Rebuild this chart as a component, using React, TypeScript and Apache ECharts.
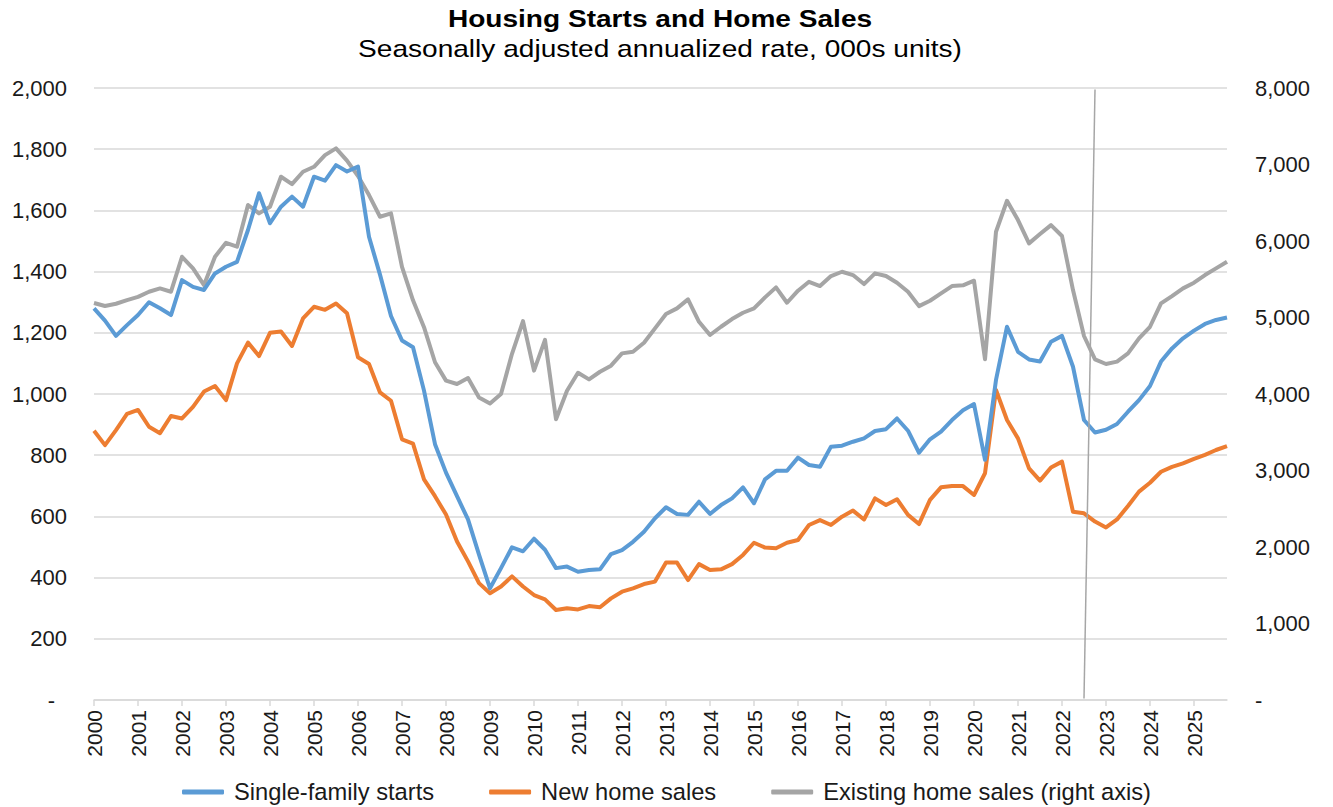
import React, { useEffect, useRef } from "react";
import * as echarts from "echarts";

const YEARS = [
  "2000", "2001", "2002", "2003", "2004", "2005", "2006", "2007", "2008", "2009",
  "2010", "2011", "2012", "2013", "2014", "2015", "2016", "2017", "2018", "2019",
  "2020", "2021", "2022", "2023", "2024", "2025",
];
const QUARTERS = ["Q1", "Q2", "Q3", "Q4"];
const CATEGORIES: string[] = YEARS.flatMap((y) => QUARTERS.map((q) => `${y}${q}`));

// Single-family housing starts (000s, SAAR) - left axis
const SINGLE_FAMILY_STARTS = [
  1280, 1240, 1190, 1225, 1258, 1300, 1280, 1258, 1372, 1350, 1340, 1394, 1416, 1432, 1536, 1656,
  1558, 1612, 1645, 1612, 1710, 1697, 1748, 1727, 1743, 1514, 1390, 1255, 1175, 1153, 1011, 836,
  743, 666, 590, 475, 365, 431, 499, 486, 527, 491, 431, 436, 419, 425, 427, 477,
  490, 517, 550, 594, 630, 608, 605, 648, 608, 637, 659, 695, 643, 721, 749, 749,
  792, 768, 762, 828, 831, 844, 855, 879, 885, 920, 880, 808, 852, 877, 915, 947,
  967, 785, 1046, 1220, 1138, 1113, 1106, 1171, 1190, 1089, 915, 874, 883, 902, 942, 980,
  1026, 1106, 1149, 1182, 1207, 1229, 1242, 1250,
];

// New home sales (000s, SAAR) - left axis
const NEW_HOME_SALES = [
  880, 833, 882, 935, 948, 893, 872, 928, 920, 958, 1008, 1026, 980, 1100, 1168, 1124,
  1200, 1204, 1157, 1247, 1285, 1275, 1296, 1264, 1120, 1098, 1005, 978, 852, 838, 721, 666,
  606, 518, 453, 382, 349, 371, 404, 371, 343, 329, 294, 300, 296, 307, 303, 332,
  354, 365, 379, 387, 449, 449, 392, 444, 425, 427, 444, 474, 514, 498, 496, 514,
  523, 572, 588, 572, 599, 619, 590, 659, 637, 656, 605, 575, 654, 695, 699, 699,
  670, 741, 1013, 915, 855, 757, 717, 760, 779, 615, 610, 583, 564, 590, 634, 681,
  710, 746, 762, 773, 788, 801, 817, 830,
];

// Existing home sales (000s, SAAR) - right axis
const EXISTING_HOME_SALES = [
  5190, 5150, 5180, 5228, 5270, 5337, 5380, 5337, 5794, 5642, 5424, 5794, 5977, 5925, 6470, 6361,
  6447, 6840, 6744, 6905, 6970, 7123, 7211, 7050, 6850, 6600, 6317, 6361, 5663, 5224, 4874, 4415,
  4175, 4131, 4209, 3955, 3877, 4000, 4525, 4953, 4305, 4708, 3671, 4043, 4278, 4191, 4291, 4370,
  4531, 4553, 4670, 4858, 5045, 5119, 5237, 4944, 4771, 4879, 4980, 5062, 5119, 5263, 5394, 5193,
  5350, 5467, 5411, 5542, 5598, 5555, 5437, 5577, 5542, 5455, 5337, 5149, 5219, 5315, 5411, 5420,
  5481, 4453, 6121, 6526, 6274, 5969, 6091, 6208, 6065, 5359, 4758, 4453, 4392, 4423, 4531, 4727,
  4879, 5184, 5280, 5381, 5455, 5555, 5642, 5729,
];

// Thin divider line (category index at bottom and top, left-axis values)
const DIVIDER_FROM = { idx: 90, value: 5 };
const DIVIDER_TO = { idx: 91, value: 1995 };

const FONT = "'Liberation Sans', Arial, Helvetica, sans-serif";
const TEXT_COLOR = "#1a1a1a";
const GRID_COLOR = "#d9d9d9";

const fmt = (v: number) => v.toLocaleString("en-US");

export default function App() {
  const ref = useRef<HTMLDivElement>(null);

  useEffect(() => {
    if (!ref.current) return;
    const chart = echarts.init(ref.current, undefined, { renderer: "svg" });
    chart.setOption({
      animation: false,
      backgroundColor: "#ffffff",
      textStyle: { fontFamily: FONT, color: TEXT_COLOR },
      graphic: [
        {
          type: "text",
          x: 660,
          y: 19,
          scaleX: 1.17,
          style: {
            text: "Housing Starts and Home Sales",
            fontFamily: FONT,
            fontSize: 24,
            fontWeight: "bold",
            fill: "#000",
            align: "center",
            verticalAlign: "middle",
            textAlign: "center",
            textVerticalAlign: "middle",
          },
        },
        {
          type: "text",
          x: 660,
          y: 49,
          scaleX: 1.17,
          style: {
            text: "Seasonally adjusted annualized rate, 000s units)",
            fontFamily: FONT,
            fontSize: 24,
            fill: "#000",
            align: "center",
            verticalAlign: "middle",
            textAlign: "center",
            textVerticalAlign: "middle",
          },
        },
      ],
      legend: {
        top: 775,
        left: "center",
        icon: "roundRect",
        itemWidth: 42,
        itemHeight: 5,
        itemGap: 55,
        textStyle: {
          fontFamily: FONT,
          fontSize: 23.7,
          color: TEXT_COLOR,
          padding: [0, 0, 0, 5],
        },
        data: ["Single-family starts", "New home sales", "Existing home sales (right axis)"],
      },
      grid: { left: 94, right: 106, top: 88, bottom: 107, containLabel: false },
      xAxis: {
        type: "category",
        data: CATEGORIES,
        boundaryGap: false,
        axisLine: { lineStyle: { color: GRID_COLOR, width: 1.5 } },
        axisTick: { interval: 3, length: 6, lineStyle: { color: GRID_COLOR, width: 1.5 } },
        axisLabel: {
          interval: 3,
          rotate: 90,
          margin: 10,
          fontFamily: FONT,
          fontSize: 21,
          color: TEXT_COLOR,
          formatter: (v: string) => (v.endsWith("Q1") ? v.slice(0, 4) : ""),
        },
        splitLine: { show: false },
      },
      yAxis: [
        {
          type: "value",
          min: 0,
          max: 2000,
          interval: 200,
          axisLine: { show: false },
          axisTick: { show: false },
          splitLine: { lineStyle: { color: GRID_COLOR, width: 1.5 } },
          axisLabel: {
            margin: 27,
            fontFamily: FONT,
            fontSize: 22,
            color: TEXT_COLOR,
            formatter: (v: number) => (v === 0 ? "{d|-}" : fmt(v)),
            rich: { d: { fontFamily: FONT, fontSize: 22, color: TEXT_COLOR, padding: [0, 12, 0, 0] } },
          },
        },
        {
          type: "value",
          min: 0,
          max: 8000,
          interval: 1000,
          position: "right",
          axisLine: { show: false },
          axisTick: { show: false },
          splitLine: { show: false },
          axisLabel: {
            margin: 28,
            fontFamily: FONT,
            fontSize: 22,
            color: TEXT_COLOR,
            formatter: (v: number) => (v === 0 ? "-" : fmt(v)),
          },
        },
      ],
      series: [
        {
          name: "Single-family starts",
          type: "line",
          data: SINGLE_FAMILY_STARTS,
          yAxisIndex: 0,
          showSymbol: false,
          symbol: "none",
          color: "#5B9BD5",
          lineStyle: { width: 4, color: "#5B9BD5", join: "round" },
          z: 4,
        },
        {
          name: "New home sales",
          type: "line",
          data: NEW_HOME_SALES,
          yAxisIndex: 0,
          showSymbol: false,
          symbol: "none",
          color: "#ED7D31",
          lineStyle: { width: 4, color: "#ED7D31", join: "round" },
          z: 3,
          markLine: {
            silent: true,
            symbol: ["none", "none"],
            label: { show: false },
            lineStyle: { color: "#a6a6a6", width: 1.5, type: "solid" },
            data: [
              [
                { coord: [DIVIDER_FROM.idx, DIVIDER_FROM.value] },
                { coord: [DIVIDER_TO.idx, DIVIDER_TO.value] },
              ],
            ],
          },
        },
        {
          name: "Existing home sales (right axis)",
          type: "line",
          data: EXISTING_HOME_SALES,
          yAxisIndex: 1,
          showSymbol: false,
          symbol: "none",
          color: "#A5A5A5",
          lineStyle: { width: 4, color: "#A5A5A5", join: "round" },
          z: 2,
        },
      ],
    });
    return () => chart.dispose();
  }, []);

  return (
    <div
      ref={ref}
      style={{ position: "fixed", left: 0, top: 0, width: 1333, height: 807 }}
    />
  );
}
